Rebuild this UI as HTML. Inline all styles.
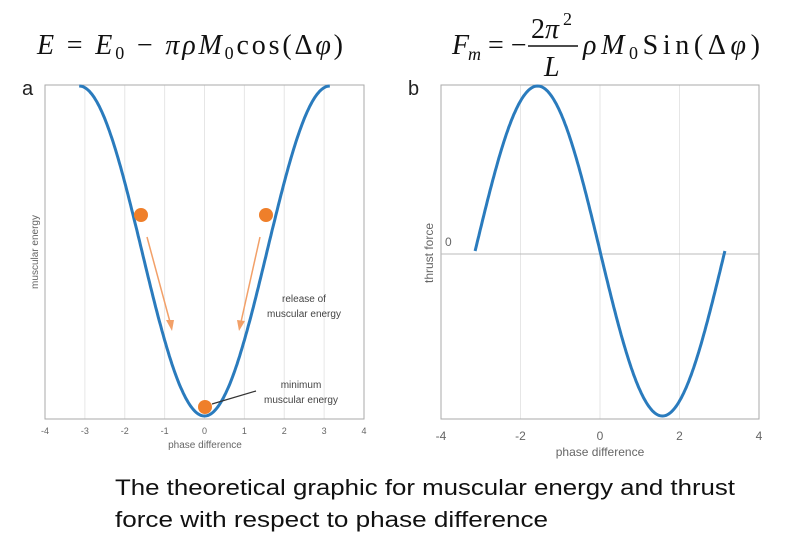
<!DOCTYPE html>
<html><head><meta charset="utf-8"><style>
body{margin:0;background:#fff;width:790px;height:546px;overflow:hidden;font-family:"Liberation Sans",sans-serif}
</style></head><body>
<svg width="790" height="546" viewBox="0 0 790 546" xmlns="http://www.w3.org/2000/svg">
<g font-family="Liberation Serif,serif" font-size="28" fill="#111">
<text x="37" y="54" textLength="306" lengthAdjust="spacing"><tspan font-style="italic">E</tspan> = <tspan font-style="italic">E</tspan><tspan font-size="18" dy="5">0</tspan><tspan dy="-5"> − </tspan><tspan font-style="italic">πρM</tspan><tspan font-size="18" dy="5">0</tspan><tspan dy="-5">cos(Δ</tspan><tspan font-style="italic">φ</tspan>)</text>
<text x="452" y="54" font-style="italic">F</text><text x="468" y="60" font-size="18" font-style="italic">m</text>
<text x="488" y="54">= −</text>
<text x="531" y="38">2<tspan font-style="italic">π</tspan></text><text x="563" y="25" font-size="18">2</text>
<line x1="528" y1="46" x2="578" y2="46" stroke="#111" stroke-width="1.5"/>
<text x="544" y="76" font-style="italic">L</text>
<text x="583" y="54" textLength="177" lengthAdjust="spacing"><tspan font-style="italic">ρM</tspan><tspan font-size="18" dy="5">0</tspan><tspan dy="-5">Sin(Δ</tspan><tspan font-style="italic">φ</tspan>)</text>
</g>
<text x="22" y="95" font-size="20" fill="#222">a</text>
<text x="408" y="95" font-size="20" fill="#222">b</text>
<g id="ga" stroke="#e6e6e6" stroke-width="1"></g>
<rect x="45" y="85" width="319" height="334" fill="none" stroke="#aaa"/>
<rect x="441" y="85" width="318" height="334" fill="none" stroke="#aaa"/>
<line x1="441" y1="254" x2="759" y2="254" stroke="#bbb"/>
<path id="pa" fill="none" stroke="#2a7bbd" stroke-width="3"/>
<path id="pb" fill="none" stroke="#2a7bbd" stroke-width="3"/>
<g font-size="9" fill="#666" text-anchor="middle" id="ta"></g>
<text x="205" y="448" font-size="10" fill="#666" text-anchor="middle">phase difference</text>
<text x="600" y="456" font-size="12" fill="#666" text-anchor="middle">phase difference</text>
<text transform="translate(38,252) rotate(-90)" font-size="10" fill="#666" text-anchor="middle">muscular energy</text>
<text transform="translate(433,253) rotate(-90)" font-size="12" fill="#666" text-anchor="middle">thrust force</text>
<text x="445" y="246" font-size="12" fill="#666">0</text>
<circle cx="141" cy="215" r="7" fill="#ef7f2a"/>
<circle cx="266" cy="215" r="7" fill="#ef7f2a"/>
<circle cx="205" cy="407" r="7" fill="#ef7f2a"/>
<line x1="212" y1="404" x2="256" y2="391" stroke="#333" stroke-width="1.2"/>
<g stroke="#f2a068" stroke-width="1.5"><line x1="147" y1="237" x2="170" y2="322"/><line x1="260" y1="237" x2="241" y2="322"/></g>
<polygon points="166,320 174,320 172,331" fill="#f2a068"/>
<polygon points="237,320 245,321 239,331" fill="#f2a068"/>
<g font-size="10" fill="#444" text-anchor="middle">
<text x="304" y="302">release of</text><text x="304" y="317">muscular energy</text>
<text x="301" y="388">minimum</text><text x="301" y="403">muscular energy</text>
</g>
<g font-size="22" fill="#111">
<text x="115" y="495" textLength="620" lengthAdjust="spacingAndGlyphs">The theoretical graphic for muscular energy and thrust</text>
<text x="115" y="527" textLength="433" lengthAdjust="spacingAndGlyphs">force with respect to phase difference</text>
</g>
</svg>
<script>
var ns="http://www.w3.org/2000/svg",g=document.getElementById('ga'),t=document.getElementById('ta');
function ln(x){var l=document.createElementNS(ns,'line');l.setAttribute('x1',x);l.setAttribute('x2',x);l.setAttribute('y1',85);l.setAttribute('y2',419);g.appendChild(l);}
function tx(x,y,s,fs){var e=document.createElementNS(ns,'text');e.setAttribute('x',x);e.setAttribute('y',y);if(fs)e.setAttribute('font-size',fs);e.textContent=s;t.appendChild(e);}
for(var i=-3;i<=3;i++)ln(45+(i+4)*39.875);
for(var i=-4;i<=4;i++)tx(45+(i+4)*39.875,434,String(i));
[-2,0,2].forEach(function(i){ln(441+(i+4)*39.75);});
[-4,-2,0,2,4].forEach(function(i){tx(441+(i+4)*39.75,440,String(i),12);});
var a='',b='';
for(var k=0;k<=200;k++){var x=-Math.PI+2*Math.PI*k/200;
a+=(k?'L':'M')+(45+(x+4)*39.875).toFixed(1)+','+(251+165*Math.cos(x)).toFixed(1);
b+=(k?'L':'M')+(441+(x+4)*39.75).toFixed(1)+','+(251+165*Math.sin(x)).toFixed(1);}
document.getElementById('pa').setAttribute('d',a);
document.getElementById('pb').setAttribute('d',b);
</script>
</body></html>
